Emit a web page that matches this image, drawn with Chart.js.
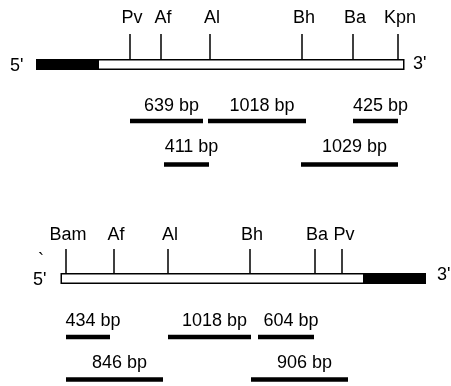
<!DOCTYPE html>
<html>
<head>
<meta charset="utf-8">
<script src="https://cdn.jsdelivr.net/npm/chart.js@4/dist/chart.umd.min.js"></script>
<style>
  html, body { margin: 0; padding: 0; background: #fff; }
  #wrap { width: 451px; height: 386px; }
</style>
</head>
<body>
<div id="wrap"><canvas id="map"></canvas></div>
<script>
// map positions in bp (shared axis for both constructs)
const topSites = ['Pv', 'Af', 'Al', 'Bh', 'Ba', 'Kpn'];
const topSitePos = [1300, 1610, 2100, 3020, 3530, 3980];
const topInsert = [990, 4030];      // white (open) part
const topFlank = [360, 990];        // black part
const topFragLabels = ['639 bp', '1018 bp', '425 bp', '411 bp', '1029 bp'];
const topFragStart = [1300, 2080, 3530, 1640, 3010];
const topFragEnd = [2030, 3060, 3980, 2090, 3980];
const topFragRow = [0, 0, 0, 1, 1];

const botSites = ['Bam', 'Af', 'Al', 'Bh', 'Ba', 'Pv'];
const botSitePos = [660, 1140, 1680, 2500, 3150, 3420];
const botInsert = [620, 3630];
const botFlank = [3630, 4260];
const botFragLabels = ['434 bp', '1018 bp', '604 bp', '846 bp', '906 bp'];
const botFragStart = [660, 1680, 2580, 660, 2510];
const botFragEnd = [1100, 2510, 3140, 1630, 3480];
const botFragRow = [0, 0, 0, 1, 1];

// vertical lanes (y axis runs top -> bottom)
const lanes = {
  top: { label: 23, tickTop: 34, bar: 64.5, frag: [121, 164.5], fragLabel: [111, 152], end5: 71, end3: 69 },
  bot: { label: 240, tickTop: 249, bar: 278.5, frag: [337, 379.5], fragLabel: [326, 368], end5: 285, end3: 280 }
};
const INK = '#000';
const FONT = '18px "Liberation Sans", Arial, sans-serif';

const datasets = [];
function seg(x0, x1, y0, y1, w, color) {
  datasets.push({
    data: [{ x: x0, y: y0 }, { x: x1, y: y1 }],
    borderColor: color, borderWidth: w, borderCapStyle: 'butt',
    pointRadius: 0, fill: false, tension: 0,
    order: -datasets.length   // later segments drawn on top
  });
}

function buildMap(lane, insert, flank, sitePos, fStart, fEnd, fRow) {
  const tickBottom = lane.bar - 5.5;
  sitePos.forEach(p => seg(p, p, lane.tickTop, tickBottom, 1.5, INK));
  // insert: outlined white box
  seg(insert[0] - 15, insert[1] + 15, lane.bar, lane.bar, 11, INK);
  seg(insert[0], insert[1], lane.bar, lane.bar, 8, '#fff');
  // flanking sequence: solid black
  seg(flank[0], flank[1], lane.bar, lane.bar, 11, INK);
  fStart.forEach((s, i) => seg(s, fEnd[i], lane.frag[fRow[i]], lane.frag[fRow[i]], 4.5, INK));
}
buildMap(lanes.top, topInsert, topFlank, topSitePos, topFragStart, topFragEnd, topFragRow);
buildMap(lanes.bot, botInsert, botFlank, botSitePos, botFragStart, botFragEnd, botFragRow);

const textPlugin = {
  id: 'mapText',
  afterDatasetsDraw(chart) {
    const { ctx, scales: { x, y } } = chart;
    ctx.save();
    ctx.fillStyle = INK;
    ctx.font = FONT;
    ctx.textBaseline = 'alphabetic';
    function put(txt, xv, yv, align, dx) {
      ctx.textAlign = align;
      ctx.fillText(txt, x.getPixelForValue(xv) + (dx || 0), y.getPixelForValue(yv));
    }
    function mapText(lane, sites, sitePos, fl, fs, fe, fr) {
      sites.forEach((s, i) => put(s, sitePos[i], lane.label, 'center', 2));
      fl.forEach((s, i) => put(s, (fs[i] + fe[i]) / 2, lane.fragLabel[fr[i]], 'center', 5));
    }
    mapText(lanes.top, topSites, topSitePos, topFragLabels, topFragStart, topFragEnd, topFragRow);
    mapText(lanes.bot, botSites, botSitePos, botFragLabels, botFragStart, botFragEnd, botFragRow);
    put("5'", 100, lanes.top.end5, 'left');
    put("3'", 4130, lanes.top.end3, 'left');
    put("5'", 330, lanes.bot.end5, 'left');
    put("3'", 4370, lanes.bot.end3, 'left');
    put('`', 410, 266, 'center');
    ctx.restore();
  }
};

new Chart(document.getElementById('map'), {
  type: 'line',
  data: { datasets },
  plugins: [textPlugin],
  options: {
    responsive: true,
    maintainAspectRatio: false,
    animation: false,
    layout: { padding: 0 },
    events: [],
    scales: {
      x: { type: 'linear', min: 0, max: 4510, display: false },
      y: { type: 'linear', min: 0, max: 386, reverse: true, display: false }
    },
    plugins: { legend: { display: false }, tooltip: { enabled: false } }
  }
});
</script>
</body>
</html>
